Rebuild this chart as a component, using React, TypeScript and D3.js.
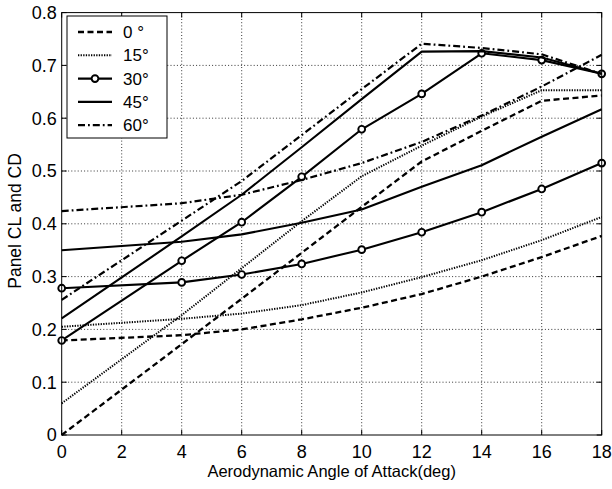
import React from "react";
import * as d3 from "d3";

const angleOfAttack = [0, 4, 6, 8, 10, 12, 14, 16, 18];
const cl0 = [0, 0.172, 0.258, 0.345, 0.432, 0.518, 0.576, 0.633, 0.643];
const cd0 = [0.179, 0.189, 0.2, 0.219, 0.241, 0.267, 0.3, 0.337, 0.377];
const cl15 = [0.06, 0.227, 0.316, 0.405, 0.49, 0.548, 0.603, 0.653, 0.653];
const cd15 = [0.205, 0.22, 0.23, 0.246, 0.27, 0.299, 0.331, 0.369, 0.413];
const cl30 = [0.179, 0.33, 0.403, 0.489, 0.579, 0.646, 0.723, 0.71, 0.684];
const cd30 = [0.278, 0.289, 0.304, 0.324, 0.351, 0.384, 0.422, 0.466, 0.515];
const cl45 = [0.221, 0.376, 0.455, 0.545, 0.636, 0.726, 0.727, 0.715, 0.684];
const cd45 = [0.35, 0.366, 0.38, 0.402, 0.427, 0.47, 0.511, 0.565, 0.617];
const cl60 = [0.256, 0.406, 0.481, 0.568, 0.655, 0.741, 0.733, 0.721, 0.684];
const cd60 = [0.424, 0.439, 0.455, 0.483, 0.515, 0.555, 0.605, 0.66, 0.72];

const xTicks = [0, 2, 4, 6, 8, 10, 12, 14, 16, 18];
const yTicks = [0, 0.1, 0.2, 0.3, 0.4, 0.5, 0.6, 0.7, 0.8];
const legendLabels = ["0 °", "15°", "30°", "45°", "60°"];

type Style = { dash: string; width: number; marker: boolean };
const styles: Style[] = [
  { dash: "6,3.5", width: 2.3, marker: false },
  { dash: "1.3,1.3", width: 2, marker: false },
  { dash: "", width: 2.1, marker: true },
  { dash: "", width: 2.1, marker: false },
  { dash: "7,3,1.8,3", width: 2.2, marker: false },
];

const seriesGroups = [
  [cl0, cd0],
  [cl15, cd15],
  [cl30, cd30],
  [cl45, cd45],
  [cl60, cd60],
];

const W = 612;
const H = 489;
const left = 61.7;
const right = 601.7;
const top = 12.6;
const bottom = 435;
const FONT = "'Liberation Sans', Arial, Helvetica, sans-serif";

export default function App() {
  const x = d3.scaleLinear().domain([0, 18]).range([left, right]);
  const y = d3.scaleLinear().domain([0, 0.8]).range([bottom, top]);
  const line = d3
    .line<[number, number]>()
    .x((d) => x(d[0]))
    .y((d) => y(d[1]));

  const legX0 = 67;
  const legY0 = 16;
  const legW = 100;
  const legH = 122;
  const rowY = (i: number) => 32 + i * 23.3;

  return (
    <svg
      width={W}
      height={H}
      style={{ position: "absolute", left: 0, top: 0, background: "#fff" }}
      fontFamily={FONT}
    >
      <rect x={0} y={0} width={W} height={H} fill="#fff" />
      {/* grid */}
      {xTicks.slice(1, -1).map((t) => (
        <line
          key={"gx" + t}
          x1={x(t)}
          x2={x(t)}
          y1={top}
          y2={bottom}
          stroke="#000"
          strokeWidth={0.8}
          strokeDasharray="1,2.2"
        />
      ))}
      {yTicks.slice(1, -1).map((t) => (
        <line
          key={"gy" + t}
          x1={left}
          x2={right}
          y1={y(t)}
          y2={y(t)}
          stroke="#000"
          strokeWidth={0.8}
          strokeDasharray="1,2.2"
        />
      ))}
      {/* ticks */}
      {xTicks.map((t) => (
        <g key={"tx" + t}>
          <line x1={x(t)} x2={x(t)} y1={bottom} y2={bottom - 5} stroke="#000" />
          <line x1={x(t)} x2={x(t)} y1={top} y2={top + 5} stroke="#000" />
          <text
            x={x(t)}
            y={458}
            fontSize={18}
            textAnchor="middle"
            fill="#000"
          >
            {t}
          </text>
        </g>
      ))}
      {yTicks.map((t) => (
        <g key={"ty" + t}>
          <line x1={left} x2={left + 5} y1={y(t)} y2={y(t)} stroke="#000" />
          <line x1={right} x2={right - 5} y1={y(t)} y2={y(t)} stroke="#000" />
          <text
            x={left - 5}
            y={y(t)}
            dy="0.36em"
            fontSize={18}
            textAnchor="end"
            fill="#000"
          >
            {t === 0 ? "0" : d3.format(".1f")(t)}
          </text>
        </g>
      ))}
      {/* series */}
      {seriesGroups.map((grp, gi) =>
        grp.map((vals, si) => {
          const pts: [number, number][] = angleOfAttack.map((a, i) => [a, vals[i]]);
          const st = styles[gi];
          return (
            <g key={`s${gi}-${si}`}>
              <path
                d={line(pts) || ""}
                fill="none"
                stroke="#000"
                strokeWidth={st.width}
                strokeDasharray={st.dash || undefined}
                strokeLinejoin="round"
              />
              {st.marker &&
                pts.map((p, i) => (
                  <circle
                    key={i}
                    cx={x(p[0])}
                    cy={y(p[1])}
                    r={3.4}
                    fill="#fff"
                    stroke="#000"
                    strokeWidth={1.9}
                  />
                ))}
            </g>
          );
        })
      )}
      {/* frame */}
      <rect
        x={left}
        y={top}
        width={right - left}
        height={bottom - top}
        fill="none"
        stroke="#000"
        strokeWidth={1}
      />
      {/* legend */}
      <rect
        x={legX0}
        y={legY0}
        width={legW}
        height={legH}
        fill="#fff"
        stroke="#000"
        strokeWidth={1}
      />
      {legendLabels.map((lab, i) => {
        const st = styles[i];
        const yy = rowY(i);
        return (
          <g key={"leg" + i}>
            <line
              x1={78}
              x2={112}
              y1={yy}
              y2={yy}
              stroke="#000"
              strokeWidth={st.width}
              strokeDasharray={st.dash || undefined}
            />
            {st.marker && (
              <circle cx={95} cy={yy} r={3.4} fill="#fff" stroke="#000" strokeWidth={1.9} />
            )}
            <text x={123} y={yy} dy="0.36em" fontSize={17} fill="#000">
              {lab}
            </text>
          </g>
        );
      })}
      {/* axis labels */}
      <text
        x={(left + right) / 2}
        y={477}
        fontSize={16.5}
        textAnchor="middle"
        fill="#000"
      >
        Aerodynamic Angle of Attack(deg)
      </text>
      <text
        transform={`translate(21, 221) rotate(-90)`}
        fontSize={17.5}
        textAnchor="middle"
        fill="#000"
      >
        Panel CL and CD
      </text>
    </svg>
  );
}
